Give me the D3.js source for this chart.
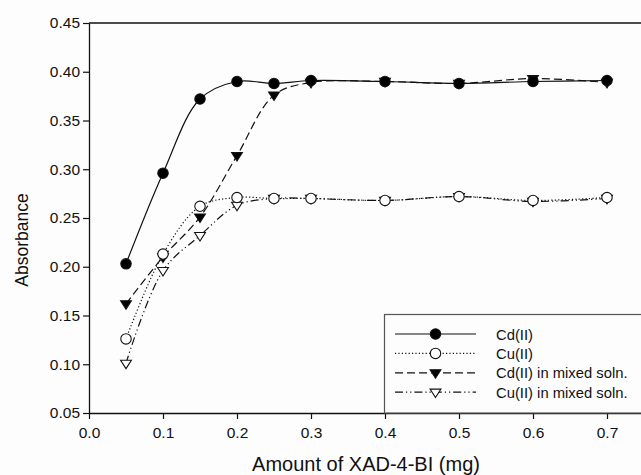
<!DOCTYPE html>
<html>
<head>
<meta charset="utf-8">
<script src="https://cdn.jsdelivr.net/npm/d3@7"></script>
<style>
  body { margin: 0; background: #fdfdfd; }
  svg { font-family: "Liberation Sans", Arial, sans-serif; }
</style>
</head>
<body>
<div id="chart"></div>
<script>
// frame constants
const FRAME_WIDTH = 641;
const FRAME_HEIGHT = 475;
const MARGINS = {left: 89, right: -3, top: 23, bottom: 62};

// data
const AMOUNTS = [0.05, 0.1, 0.15, 0.2, 0.25, 0.3, 0.4, 0.5, 0.6, 0.7];
const CD = [0.203, 0.296, 0.372, 0.390, 0.388, 0.391, 0.390, 0.388, 0.390, 0.391];
const CU = [0.126, 0.213, 0.262, 0.271, 0.270, 0.270, 0.268, 0.272, 0.268, 0.271];
const CD_MIXED = [0.162, 0.210, 0.251, 0.314, 0.376, 0.389, 0.390, 0.388, 0.393, 0.389];
const CU_MIXED = [0.101, 0.196, 0.232, 0.263, 0.270, 0.270, 0.268, 0.272, 0.267, 0.270];
const SERIES_NAMES = ["Cd(II)", "Cu(II)", "Cd(II) in mixed soln.", "Cu(II) in mixed soln."];
const X_TICKS = [0, 0.1, 0.2, 0.3, 0.4, 0.5, 0.6, 0.7];
const Y_TICKS = [0.05, 0.10, 0.15, 0.20, 0.25, 0.30, 0.35, 0.40, 0.45];

const SERIES = [
  {name: SERIES_NAMES[0], values: CD, dash: null, marker: "circle", fill: "#000"},
  {name: SERIES_NAMES[1], values: CU, dash: "1.2,2.2", marker: "circle", fill: "#fff"},
  {name: SERIES_NAMES[2], values: CD_MIXED, dash: "8,4", marker: "tri", fill: "#000"},
  {name: SERIES_NAMES[3], values: CU_MIXED, dash: "8,3,1.2,3,1.2,3", marker: "tri", fill: "#fff"}
];

const FRAME = d3.select("#chart")
  .append("svg")
  .attr("width", FRAME_WIDTH)
  .attr("height", FRAME_HEIGHT);

const X_SCALE = d3.scaleLinear()
  .domain([0, 0.75])
  .range([MARGINS.left, FRAME_WIDTH - MARGINS.right]);

const Y_SCALE = d3.scaleLinear()
  .domain([0.05, 0.45])
  .range([FRAME_HEIGHT - MARGINS.bottom, MARGINS.top]);

// top frame line
FRAME.append("line")
  .attr("x1", X_SCALE(0)).attr("x2", X_SCALE(0.75))
  .attr("y1", Y_SCALE(0.45)).attr("y2", Y_SCALE(0.45))
  .attr("stroke", "#111").attr("stroke-width", 1.3);

// axes
const xAxis = FRAME.append("g")
  .attr("transform", "translate(0," + Y_SCALE(0.05) + ")")
  .call(d3.axisBottom(X_SCALE).tickValues(X_TICKS).tickFormat(d3.format(".1f")).tickSize(6).tickSizeOuter(0));
const yAxis = FRAME.append("g")
  .attr("transform", "translate(" + X_SCALE(0) + ",0)")
  .call(d3.axisLeft(Y_SCALE).tickValues(Y_TICKS).tickFormat(d3.format(".2f")).tickSize(6).tickSizeOuter(0));

[xAxis, yAxis].forEach((g) => {
  g.select(".domain").attr("stroke", "#111").attr("stroke-width", 1.3);
  g.selectAll(".tick line").attr("stroke", "#111").attr("stroke-width", 1.2);
  g.selectAll(".tick text")
    .attr("font-size", "15.5px")
    .attr("font-family", "Liberation Sans, Arial, sans-serif")
    .attr("fill", "#111");
});
xAxis.selectAll(".tick text").attr("dy", "1.0em");
yAxis.selectAll(".tick text").attr("x", -9);

// axis titles
FRAME.append("text")
  .attr("x", 366).attr("y", 471)
  .attr("text-anchor", "middle")
  .attr("font-size", "20px")
  .attr("fill", "#111")
  .text("Amount of XAD-4-BI (mg)");

FRAME.append("text")
  .attr("transform", "translate(28,240) rotate(-90)")
  .attr("text-anchor", "middle")
  .attr("font-size", "17.5px")
  .attr("fill", "#111")
  .text("Absorbance");

const LINE = d3.line()
  .x((d) => X_SCALE(d[0]))
  .y((d) => Y_SCALE(d[1]))
  .curve(d3.curveCatmullRom.alpha(0.5));

const triangle = (cx, cy, s) => {
  const h = s * 0.95;
  return "M" + (cx - s) + "," + (cy - h * 0.6) + "L" + (cx + s) + "," + (cy - h * 0.6) +
    "L" + cx + "," + (cy + h * 1.05) + "Z";
};

function drawMarker(g, m, fill, cx, cy) {
  if (m === "circle") {
    g.append("circle")
      .attr("cx", cx).attr("cy", cy).attr("r", 5.2)
      .attr("fill", fill).attr("stroke", "#111").attr("stroke-width", 1.1);
  } else {
    g.append("path")
      .attr("d", triangle(cx, cy, 5.4))
      .attr("fill", fill).attr("stroke", "#111").attr("stroke-width", 1.1);
  }
}

// lines first, then markers (draw in reverse so Cd(II) sits on top)
SERIES.slice().reverse().forEach((s) => {
  const pts = AMOUNTS.map((a, i) => [a, s.values[i]]);
  FRAME.append("path")
    .datum(pts)
    .attr("d", LINE)
    .attr("fill", "none")
    .attr("stroke", "#111")
    .attr("stroke-width", 1.2)
    .attr("stroke-dasharray", s.dash);
});
SERIES.slice().reverse().forEach((s) => {
  const g = FRAME.append("g");
  AMOUNTS.forEach((a, i) => drawMarker(g, s.marker, s.fill, X_SCALE(a), Y_SCALE(s.values[i])));
});

// legend
const LEG = FRAME.append("g");
LEG.append("rect")
  .attr("x", 384.5).attr("y", 314.5)
  .attr("width", 270).attr("height", Y_SCALE(0.05) - 314.5)
  .attr("fill", "#fdfdfd").attr("stroke", "#555").attr("stroke-width", 1.2);

SERIES.forEach((s, i) => {
  const y = 334 + i * 19.4;
  LEG.append("line")
    .attr("x1", 395).attr("x2", 476).attr("y1", y).attr("y2", y)
    .attr("stroke", "#111").attr("stroke-width", 1.2)
    .attr("stroke-dasharray", s.dash);
  drawMarker(LEG, s.marker, s.fill, 435.5, y);
  LEG.append("text")
    .attr("x", 496).attr("y", y + 5.5)
    .attr("font-size", "14.8px")
    .attr("fill", "#111")
    .text(s.name);
});
</script>
</body>
</html>
